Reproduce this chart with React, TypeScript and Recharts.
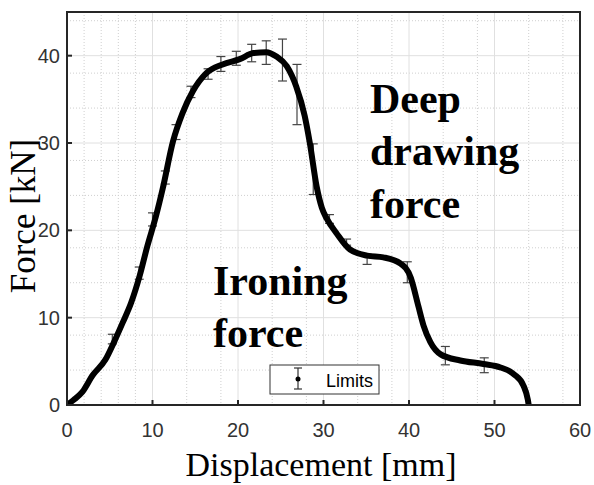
import React from "react";
import {
  ComposedChart,
  Line,
  Scatter,
  ErrorBar,
  XAxis,
  YAxis,
  CartesianGrid,
  ReferenceArea,
  Customized,
} from "recharts";

// measured force curve
const displacement = [
  0, 0.8, 1.8, 3.0, 4.5, 5.5, 6.5, 7.5, 8.5, 9.4, 10.4, 11.2, 12.4, 13.5, 14.7,
  16.3, 18.2, 20.2, 21.8, 23.3, 24.5, 25.7, 26.8, 27.8, 28.4, 29.2, 29.8, 30.4,
  31.5, 33.1, 35.1, 37.0, 39.0, 40.2, 41.1, 41.7, 42.5, 43.7, 46.0, 48.7, 50.7,
  52.3, 53.4, 53.9, 54.0,
];
const force = [
  0, 0.6, 1.5, 3.4, 5.2, 7.2, 9.4, 11.7, 14.8, 18.2, 21.6, 24.8, 30.2, 33.4,
  35.9, 38.0, 39.0, 39.6, 40.3, 40.4, 39.9, 38.8, 36.5, 33.1, 30.0, 25.0, 22.6,
  21.3, 19.7, 17.8, 17.1, 16.9, 16.2, 14.6, 11.3, 9.1, 7.2, 5.8, 5.1, 4.7, 4.3,
  3.5, 2.2, 0.6, 0,
];

// scatter limits
const limitX = [
  5.3, 8.45, 10.0, 11.5, 12.75, 14.5, 16.5, 18.0, 19.8, 21.6, 23.3, 25.2, 26.9,
  28.8, 30.7, 32.7, 35.1, 39.8, 44.25, 48.8,
];
const limitLow = [
  7.0, 14.4, 20.5, 25.3, 30.4, 35.2, 37.3, 38.2, 38.9, 39.3, 39.0, 37.1, 32.1,
  24.1, 20.8, 18.3, 16.1, 14.0, 4.6, 3.7,
];
const limitHigh = [
  8.1, 15.8, 22.0, 26.8, 32.1, 36.5, 38.5, 39.9, 40.5, 41.3, 41.7, 41.9, 39.0,
  29.9, 21.8, 19.0, 17.3, 16.4, 6.7, 5.4,
];

const xTicks = [0, 10, 20, 30, 40, 50, 60];
const yTicks = [0, 10, 20, 30, 40];
const xMinor = [2, 4, 6, 8, 12, 14, 16, 18, 22, 24, 26, 28, 32, 34, 36, 38, 42, 44, 46, 48, 52, 54, 56, 58];
const yMinor = [2, 4, 6, 8, 12, 14, 16, 18, 22, 24, 26, 28, 32, 34, 36, 38, 42, 44];
const xMajor = [10, 20, 30, 40, 50];
const yMajor = [10, 20, 30, 40];

const curve = displacement.map((x, i) => ({ x, y: force[i] }));
const limits = limitX.map((x, i) => {
  const half = (limitHigh[i] - limitLow[i]) / 2;
  return { x, y: limitLow[i] + half, err: [half, half] };
});

const AXIS = "#262626";
const tickStyle = { fontSize: 20, fill: "#333", fontFamily: "Liberation Sans, Arial, sans-serif" };
const serif = "Liberation Serif, Times New Roman, serif";

function Annotations() {
  return (
    <g>
      <g fontFamily={serif} fontWeight="bold" fontSize={42} fill="#000">
        <text x={370} y={113}>Deep</text>
        <text x={370} y={165}>drawing</text>
        <text x={370} y={218}>force</text>
        <text x={213} y={295}>Ironing</text>
        <text x={213} y={347}>force</text>
      </g>
      <text x={321} y={476} textAnchor="middle" fontFamily={serif} fontSize={34} fill="#000">
        Displacement [mm]
      </text>
      <text
        x={35}
        y={216}
        transform="rotate(-90 35 216)"
        textAnchor="middle"
        fontFamily={serif}
        fontSize={35}
        fill="#000"
      >
        Force [kN]
      </text>
      {/* legend */}
      <rect x={270} y={365} width={109} height={29} fill="#fff" stroke="#333" strokeWidth={1} />
      <g stroke="#333" strokeWidth={1.2}>
        <line x1={298} y1={368} x2={298} y2={389} />
        <line x1={294} y1={368} x2={302} y2={368} />
        <line x1={294} y1={389} x2={302} y2={389} />
      </g>
      <circle cx={298} cy={379} r={2.5} fill="#000" />
      <text x={326} y={387} fontFamily="Liberation Sans, Arial, sans-serif" fontSize={18} fill="#000">
        Limits
      </text>
    </g>
  );
}

export default function App() {
  return (
    <div style={{ width: 594, height: 485, background: "#fff" }}>
      <style>{`html,body{margin:0;padding:0;overflow:hidden;background:#fff}`}</style>
      <ComposedChart
        width={594}
        height={485}
        margin={{ top: 11, right: 13, bottom: 0, left: 0 }}
      >
        <CartesianGrid
          horizontalValues={yMinor}
          verticalValues={xMinor}
          stroke="#cfcfcf"
          strokeDasharray="1 2"
          fill="#fff"
        />
        <CartesianGrid
          horizontalValues={yMajor}
          verticalValues={xMajor}
          stroke="#e0e0e0"
          strokeWidth={1}
        />
        <XAxis
          dataKey="x"
          type="number"
          domain={[0, 60]}
          ticks={xTicks}
          allowDataOverflow
          height={80}
          tickSize={-5}
          tickMargin={23}
          tick={tickStyle}
          stroke={AXIS}
          strokeWidth={2}
        />
        <YAxis
          dataKey="y"
          type="number"
          domain={[0, 45]}
          ticks={yTicks}
          allowDataOverflow
          width={67}
          tickSize={-5}
          tickMargin={12}
          tick={tickStyle}
          stroke={AXIS}
          strokeWidth={2}
        />
        <XAxis
          xAxisId="top"
          orientation="top"
          type="number"
          domain={[0, 60]}
          ticks={xTicks}
          allowDataOverflow
          height={1}
          tickSize={-5}
          tick={false}
          stroke={AXIS}
          strokeWidth={2}
        />
        <YAxis
          yAxisId="right"
          orientation="right"
          type="number"
          domain={[0, 45]}
          ticks={yTicks}
          allowDataOverflow
          width={1}
          tickSize={-5}
          tick={false}
          stroke={AXIS}
          strokeWidth={2}
        />
        <ReferenceArea
          x1={0}
          x2={60}
          y1={0}
          y2={45}
          fill="none"
          stroke={AXIS}
          strokeWidth={2}
          ifOverflow="visible"
        />
        <Scatter data={limits} dataKey="y" shape={() => <g />} isAnimationActive={false}>
          <ErrorBar dataKey="err" direction="y" width={4.5} stroke="#444" strokeWidth={1.2} />
        </Scatter>
        <Line
          data={curve}
          dataKey="y"
          type="monotone"
          stroke="#000"
          strokeWidth={6}
          dot={false}
          activeDot={false}
          isAnimationActive={false}
        />
        <Customized component={Annotations} />
      </ComposedChart>
    </div>
  );
}
